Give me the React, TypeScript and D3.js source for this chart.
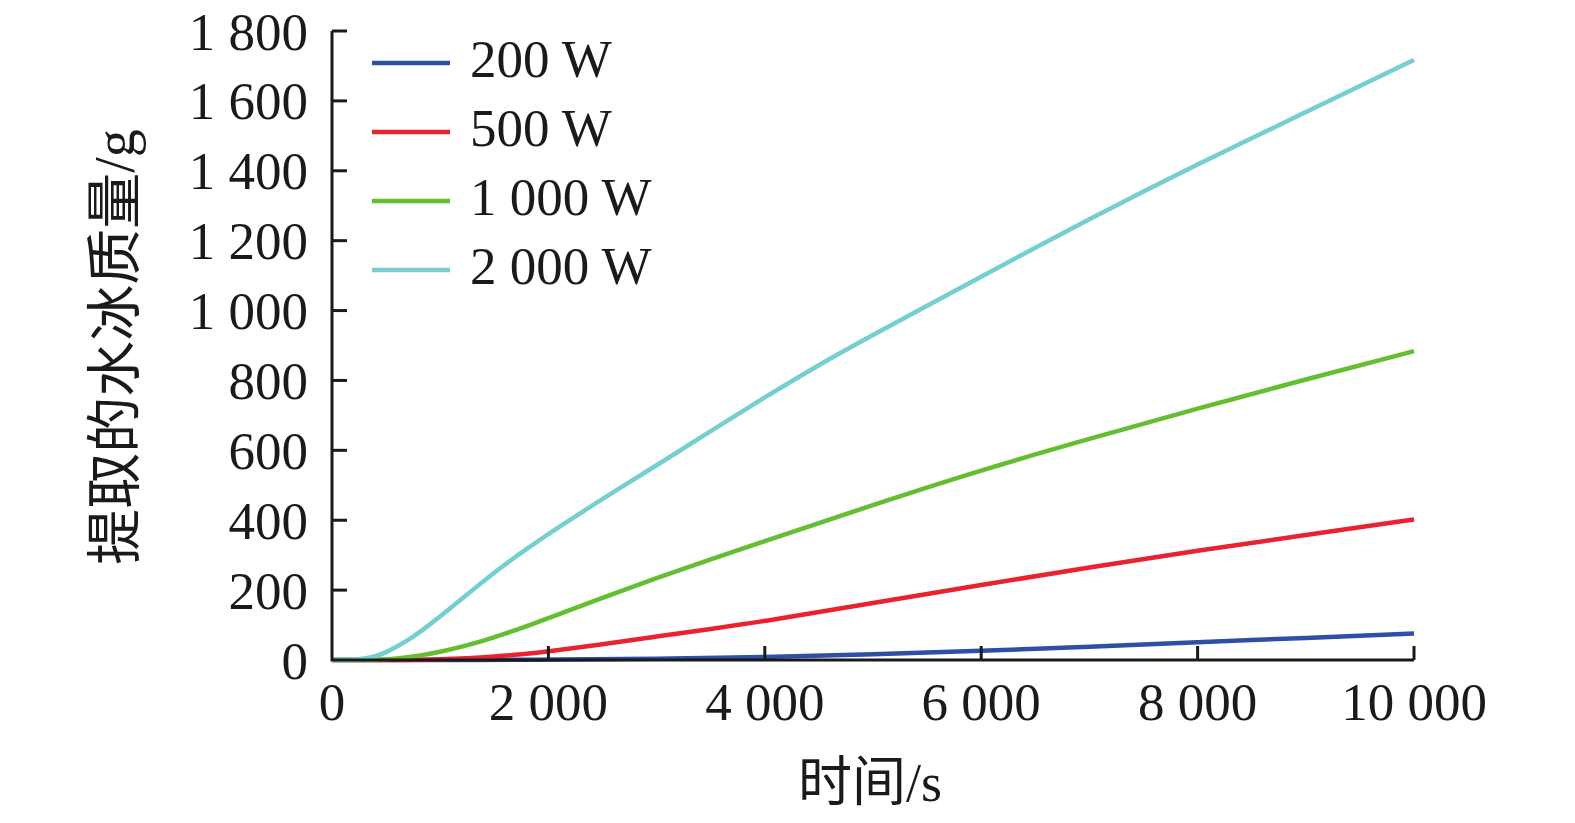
import React from "react";
import * as d3 from "d3";

const W = 1575;
const H = 823;

const xTicks = [0, 2000, 4000, 6000, 8000, 10000];
const yTicks = [0, 200, 400, 600, 800, 1000, 1200, 1400, 1600, 1800];

const seriesNames = ["200 W", "500 W", "1 000 W", "2 000 W"];
const seriesColors = ["#2f4fa5", "#e8232f", "#63bf30", "#74cfd1"];

const s200: [number, number][] = [
  [0, 0], [1500, 0], [2000, 1], [3000, 3], [4000, 8], [5000, 16], [6000, 26],
  [7000, 38], [8000, 51], [9000, 63], [10000, 76],
];
const s500: [number, number][] = [
  [0, 0], [700, 0], [1000, 2], [1250, 5], [1500, 10], [1750, 16], [2000, 24],
  [2500, 45], [3000, 67], [3500, 89], [4000, 111], [5000, 163], [6000, 215],
  [7000, 265], [8000, 313], [9000, 358], [10000, 402],
];
const s1000: [number, number][] = [
  [0, 0], [400, 0], [600, 4], [800, 12], [1000, 23], [1200, 38], [1400, 55],
  [1600, 75], [1800, 97], [2000, 120], [2500, 178], [3000, 235], [3500, 288],
  [4000, 340], [4500, 392], [5000, 444], [6000, 544], [7000, 633], [8000, 720],
  [9000, 803], [10000, 884],
];
const s2000: [number, number][] = [
  [0, 0], [250, 0], [400, 10], [500, 22], [600, 38], [750, 66], [900, 100],
  [1050, 137], [1200, 175], [1350, 213], [1500, 250], [1650, 285], [1800, 318],
  [1950, 350], [2100, 381], [2400, 441], [2700, 500], [3000, 557], [3500, 655],
  [4000, 752], [4500, 845], [5000, 930], [5500, 1014], [6000, 1097],
  [6500, 1180], [7000, 1262], [7500, 1341], [8000, 1418], [8500, 1493],
  [9000, 1568], [9500, 1643], [10000, 1717],
];
const seriesData = [s200, s500, s1000, s2000];

const fmt = (v: number) => {
  if (v < 1000) return String(v);
  const s = String(v);
  return s.slice(0, s.length - 3) + " " + s.slice(s.length - 3);
};

export default function App() {
  const x = d3.scaleLinear().domain([0, 10000]).range([332, 1414]);
  const y = d3.scaleLinear().domain([0, 1800]).range([660, 31]);
  const line = d3
    .line<[number, number]>()
    .x((d) => x(d[0]))
    .y((d) => y(d[1]))
    .curve(d3.curveBasis);
  const serif = "'Liberation Serif', 'Times New Roman', serif";
  const cjk = "'Liberation Serif', 'Noto Sans CJK SC', serif";
  const fs = 53;
  return (
    <svg
      width={W}
      height={H}
      style={{ position: "absolute", left: 0, top: 0, background: "#fff" }}
    >
      <rect width={W} height={H} fill="#fff" />
      {seriesData.map((d, i) => (
        <path
          key={i}
          d={line(d) || ""}
          fill="none"
          stroke={seriesColors[i]}
          strokeWidth={4.5}
        />
      ))}
      <path
        d={`M${x(0)},${y(1800)} V${y(0)} H${x(10000)}`}
        fill="none"
        stroke="#1a1a1a"
        strokeWidth={3}
      />
      {yTicks.map((t) => (
        <g key={"y" + t}>
          {t > 0 && (
            <line
              x1={x(0)}
              x2={x(0) + 15}
              y1={y(t)}
              y2={y(t)}
              stroke="#1a1a1a"
              strokeWidth={3}
            />
          )}
          <text
            x={308}
            y={y(t)}
            dy="0.35em"
            textAnchor="end"
            fontFamily={serif}
            fontSize={fs}
            fill="#1a1a1a"
          >
            {fmt(t)}
          </text>
        </g>
      ))}
      {xTicks.map((t) => (
        <g key={"x" + t}>
          {t > 0 && (
            <line
              x1={x(t)}
              x2={x(t)}
              y1={y(0)}
              y2={y(0) - 14}
              stroke="#1a1a1a"
              strokeWidth={3}
            />
          )}
          <text
            x={x(t)}
            y={720}
            textAnchor="middle"
            fontFamily={serif}
            fontSize={fs}
            fill="#1a1a1a"
          >
            {fmt(t)}
          </text>
        </g>
      ))}
      {seriesNames.map((n, i) => (
        <g key={n}>
          <line
            x1={372}
            x2={450}
            y1={63 + i * 69}
            y2={63 + i * 69}
            stroke={seriesColors[i]}
            strokeWidth={4.5}
          />
          <text
            x={470}
            y={77 + i * 69}
            fontFamily={serif}
            fontSize={fs}
            fill="#1a1a1a"
          >
            {n}
          </text>
        </g>
      ))}
      <text
        x={870}
        y={801}
        textAnchor="middle"
        fontFamily={cjk}
        fontSize={54}
        fill="#1a1a1a"
      >
        时间/s
      </text>
      <text
        transform={`translate(114,347) rotate(-90)`}
        textAnchor="middle"
        dy="0.35em"
        fontFamily={cjk}
        fontSize={56}
        fill="#1a1a1a"
      >
        提取的水冰质量/g
      </text>
    </svg>
  );
}
